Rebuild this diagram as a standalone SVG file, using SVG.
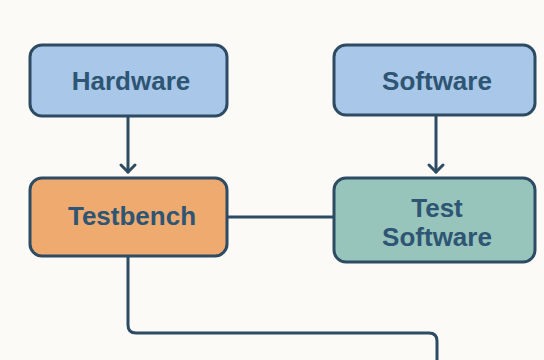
<svg xmlns="http://www.w3.org/2000/svg" width="544" height="360" viewBox="0 0 544 360">
<defs>
<style>
.box{stroke:#2d4b62;stroke-width:3}
.hw{fill:#a9c7e8}
.tb{fill:#eeaa6f}
.ts{fill:#97c4bb}
.lbl{font-family:"Liberation Sans",Arial,sans-serif;font-weight:bold;font-size:26px;fill:#2e5573;text-anchor:middle}
.conn{fill:none;stroke:#2d4b62;stroke-width:3;stroke-linecap:round;stroke-linejoin:round}
</style>
</defs>
<rect width="544" height="360" fill="#fbfaf6"/>
<g id="connectors">
<path class="conn" d="M128,117 V172"/>
<path class="conn" d="M436,116 V172"/>
<path d="M121,165 L128,172 L135,165" class="conn"/>
<path d="M429,165 L436,172 L443,165" class="conn"/>
<path class="conn" d="M227,217 H334"/>
<path class="conn" d="M128,256 V325 Q128,333 136,333 H429 Q437,333 437,341 V362"/>
</g>
<g id="hardware">
<rect class="box hw" x="30" y="45" width="197" height="71" rx="12"/>
<text class="lbl" x="131" y="90">Hardware</text>
</g>
<g id="software">
<rect class="box hw" x="334" y="45" width="201" height="70" rx="12"/>
<text class="lbl" x="437" y="90">Software</text>
</g>
<g id="testbench">
<rect class="box tb" x="30" y="178" width="197" height="78" rx="12"/>
<text class="lbl" x="132" y="225">Testbench</text>
</g>
<g id="test-software">
<rect class="box ts" x="334" y="178" width="201" height="84" rx="12"/>
<text class="lbl" x="437" y="217">Test</text>
<text class="lbl" x="437" y="246">Software</text>
</g>
</svg>
